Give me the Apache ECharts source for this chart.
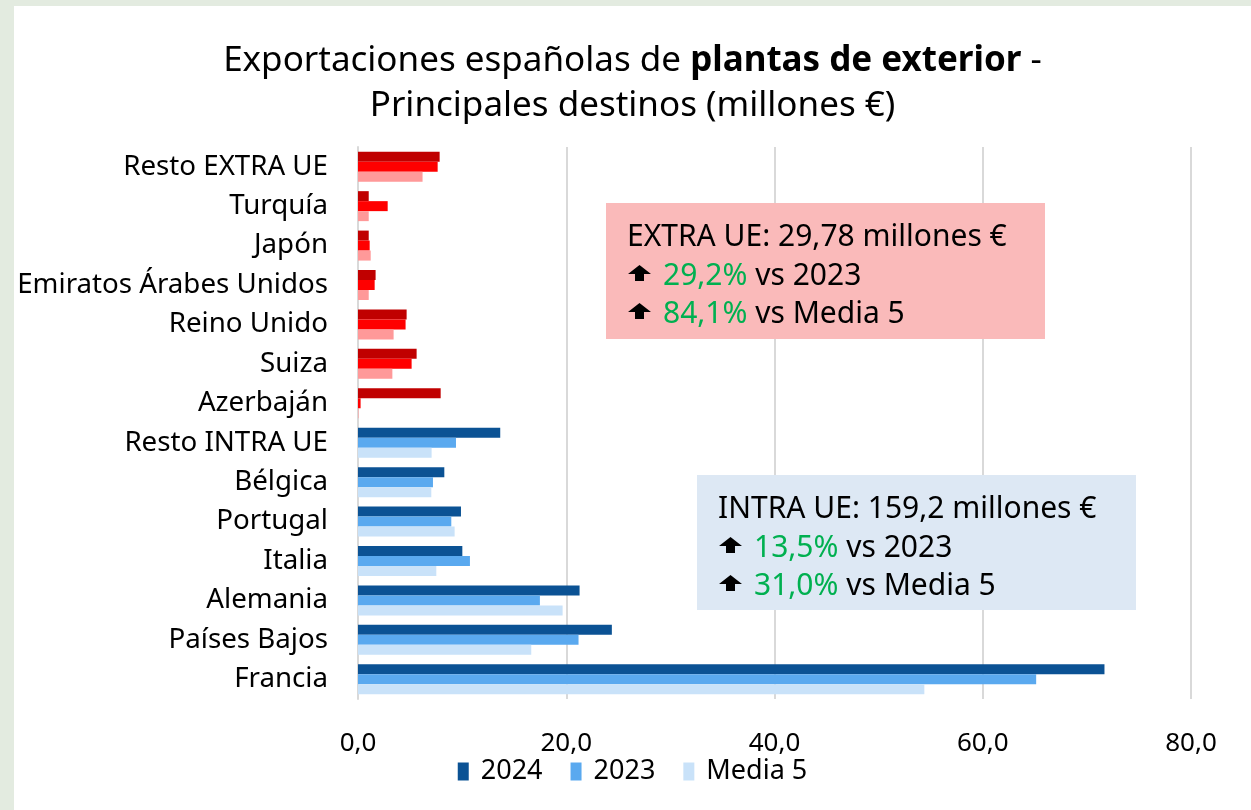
<!DOCTYPE html>
<html>
<head>
<meta charset="utf-8">
<script src="https://cdn.jsdelivr.net/npm/echarts@6/dist/echarts.min.js"></script>
<style>
  html, body { margin: 0; padding: 0; background: #e3ebe0; }
  #chart { position: absolute; left: 14px; top: 6px; width: 1237px; height: 804px; }
</style>
</head>
<body>
<div id="chart"></div>
<script>
// destinos, de arriba a abajo
var destinos = ['Resto EXTRA UE', 'Turquía', 'Japón', 'Emiratos Árabes Unidos', 'Reino Unido', 'Suiza', 'Azerbaján',
  'Resto INTRA UE', 'Bélgica', 'Portugal', 'Italia', 'Alemania', 'Países Bajos', 'Francia']
var nExtra = 7

var v2024 = [7.84, 1.03, 1.03, 1.69, 4.67, 5.63, 7.94, 13.66, 8.29, 9.89, 10.02, 21.28, 24.38, 71.69]
var v2023 = [7.65, 2.85, 1.12, 1.60, 4.57, 5.15, 0.25, 9.41, 7.20, 8.96, 10.75, 17.47, 21.18, 65.13]
var vMedia5 = [6.20, 1.03, 1.22, 1.03, 3.42, 3.30, 0.05, 7.07, 7.04, 9.28, 7.52, 19.65, 16.64, 54.39]

var xTicks = [0, 20, 40, 60, 80]
var serieNames = ['2024', '2023', 'Media 5']

var coloresExtra = ['#c00000', '#ff0000', '#ff9999']
var coloresIntra = ['#0b5294', '#5aa9ef', '#c9e2f9']

var font = '"Noto Sans", "Open Sans", sans-serif'

function buildData(values, idx) {
  return values.map(function(v, i) {
    return {
      value: v,
      itemStyle: { color: i < nExtra ? coloresExtra[idx] : coloresIntra[idx] }
    }
  })
}

// flecha negra hacia arriba (dentro de los cuadros)
function arrow(x, y) {
  return {
    type: 'polygon',
    z: 100,
    shape: { points: [[x + 11.5, y], [x + 23, y + 9], [x + 16, y + 9], [x + 16, y + 16], [x + 7, y + 16], [x + 7, y + 9], [x, y + 9]] },
    style: { fill: '#000' }
  }
}

function box(left, top, w, h, fill, titulo, pct1, pct2) {
  var txt = { fontFamily: font, fontSize: 30, fill: '#000' }
  var rich = { g: { fontFamily: font, fontSize: 30, fill: '#00b050' } }
  return {
    type: 'group',
    left: left,
    top: top,
    z: 100,
    children: [
      { type: 'rect', z: 100, shape: { x: 0, y: 0, width: w, height: h }, style: { fill: fill } },
      { type: 'text', z: 101, x: 21, y: 34, style: Object.assign({ text: titulo, verticalAlign: 'middle' }, txt) },
      arrow(22, 62),
      { type: 'text', z: 101, x: 57, y: 73, style: Object.assign({ text: '{g|' + pct1 + '} vs 2023', verticalAlign: 'middle', rich: rich }, txt) },
      arrow(22, 100),
      { type: 'text', z: 101, x: 57, y: 111, style: Object.assign({ text: '{g|' + pct2 + '} vs Media 5', verticalAlign: 'middle', rich: rich }, txt) }
    ]
  }
}

var chart = echarts.init(document.getElementById('chart'))

var option = {
  backgroundColor: '#ffffff',
  animation: false,
  title: {
    left: 'center',
    top: 28,
    text: '{n|Exportaciones españolas de }{b|plantas de exterior}{n| -}\n{n|Principales destinos (millones €)}',
    textStyle: {
      rich: {
        n: { fontFamily: font, fontSize: 35, color: '#000', fontWeight: 'normal', lineHeight: 45 },
        b: { fontFamily: font, fontSize: 35, color: '#000', fontWeight: 'bold', lineHeight: 45 }
      }
    }
  },
  legend: {
    bottom: 20,
    left: 'center',
    icon: 'rect',
    itemWidth: 11,
    itemHeight: 18,
    itemGap: 28,
    formatter: function(name) { return ' ' + name },
    data: serieNames.map(function(n, i) {
      return { name: n, itemStyle: { color: coloresIntra[i] } }
    }),
    textStyle: { fontFamily: font, fontSize: 27, color: '#000' }
  },
  grid: {
    left: 344,
    right: 60,
    top: 141,
    bottom: 111
  },
  xAxis: {
    type: 'value',
    min: xTicks[0],
    max: xTicks[xTicks.length - 1],
    interval: 20,
    axisLine: { show: false },
    axisTick: { show: false },
    splitLine: { lineStyle: { color: '#d9d9d9', width: 2 } },
    axisLabel: {
      margin: 32,
      fontFamily: font,
      fontSize: 26,
      color: '#000',
      formatter: function(v) { return v.toFixed(1).replace('.', ',') }
    }
  },
  yAxis: {
    type: 'category',
    inverse: true,
    data: destinos,
    axisLine: { lineStyle: { color: '#d9d9d9', width: 2 } },
    axisTick: { show: false },
    axisLabel: { margin: 30, fontFamily: font, fontSize: 27.7, color: '#000' }
  },
  series: [
    { name: serieNames[0], type: 'bar', barGap: '0%', barCategoryGap: '24%', data: buildData(v2024, 0) },
    { name: serieNames[1], type: 'bar', barGap: '0%', barCategoryGap: '24%', data: buildData(v2023, 1) },
    { name: serieNames[2], type: 'bar', barGap: '0%', barCategoryGap: '24%', data: buildData(vMedia5, 2) }
  ],
  graphic: [
    box(592, 197, 439, 136, '#fababa', 'EXTRA UE: 29,78 millones €', '29,2%', '84,1%'),
    box(683, 469, 439, 135, '#dde8f4', 'INTRA UE: 159,2 millones €', '13,5%', '31,0%')
  ]
}

chart.setOption(option)
</script>
</body>
</html>
